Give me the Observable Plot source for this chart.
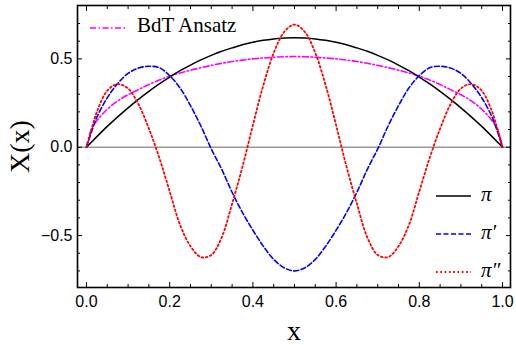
<!DOCTYPE html>
<html><head><meta charset="utf-8">
<script src="https://cdn.jsdelivr.net/npm/d3@7"></script>
<script src="https://cdn.jsdelivr.net/npm/@observablehq/plot@0.6"></script>
<style>html,body{margin:0;padding:0;background:#fff}</style>
</head><body><div id="chart"></div>
<script>
const xs = [0, 0.0125, 0.025, 0.05, 0.075, 0.1, 0.125, 0.15, 0.175, 0.2, 0.225, 0.25, 0.275, 0.3, 0.325, 0.35, 0.375, 0.4, 0.425, 0.45, 0.475, 0.5,
            0.525, 0.55, 0.575, 0.6, 0.625, 0.65, 0.675, 0.7, 0.725, 0.75, 0.775, 0.8, 0.825, 0.85, 0.875, 0.9, 0.925, 0.95, 0.975, 0.9875, 1];
const piVals = [0, 0.03, 0.06, 0.118, 0.172, 0.223, 0.271, 0.316, 0.358, 0.397, 0.433, 0.465, 0.494, 0.52, 0.543, 0.562, 0.58, 0.594, 0.605, 0.613, 0.618, 0.62,
                0.618, 0.613, 0.605, 0.594, 0.58, 0.562, 0.543, 0.52, 0.494, 0.465, 0.433, 0.397, 0.358, 0.316, 0.271, 0.223, 0.172, 0.118, 0.06, 0.03, 0];
const piPrimeVals = [0, 0.09, 0.17, 0.28, 0.36, 0.418, 0.448, 0.458, 0.45, 0.405, 0.335, 0.235, 0.12, -0.01, -0.125, -0.255, -0.37, -0.47, -0.56, -0.635, -0.682, -0.70,
                     -0.682, -0.635, -0.56, -0.47, -0.37, -0.255, -0.125, -0.01, 0.12, 0.235, 0.335, 0.405, 0.45, 0.458, 0.448, 0.418, 0.36, 0.28, 0.17, 0.09, 0];
const piDoublePrimeVals = [0, 0.105, 0.2, 0.32, 0.357, 0.332, 0.243, 0.105, -0.06, -0.25, -0.44, -0.56, -0.622, -0.61, -0.51, -0.32, -0.11, 0.125, 0.35, 0.533, 0.652, 0.694,
                           0.652, 0.533, 0.35, 0.125, -0.11, -0.32, -0.51, -0.61, -0.622, -0.56, -0.44, -0.25, -0.06, 0.105, 0.243, 0.332, 0.357, 0.32, 0.2, 0.105, 0];
const bdtVals = [0, 0.105, 0.15, 0.215, 0.262, 0.297, 0.326, 0.355, 0.38, 0.402, 0.42, 0.436, 0.45, 0.463, 0.475, 0.485, 0.493, 0.5, 0.505, 0.509, 0.512, 0.513,
                 0.512, 0.509, 0.505, 0.5, 0.493, 0.485, 0.475, 0.463, 0.45, 0.436, 0.42, 0.402, 0.38, 0.355, 0.326, 0.297, 0.262, 0.215, 0.15, 0.105, 0];

const seriesNames = ["π", "π′", "π″"];
const bdtName = "BdT Ansatz";
const xMajorTicks = [0, 0.2, 0.4, 0.6, 0.8, 1.0];
const xMinorTicks = [0.05, 0.1, 0.15, 0.25, 0.3, 0.35, 0.45, 0.5, 0.55, 0.65, 0.7, 0.75, 0.85, 0.9, 0.95];
const yMajorTicks = [-0.5, 0, 0.5];
const yMinorTicks = [-0.7, -0.6, -0.4, -0.3, -0.2, -0.1, 0.1, 0.2, 0.3, 0.4, 0.6, 0.7];
const xLabel = "x";
const yLabel = "X(x)";

const rows = vals => xs.map((x, i) => ({x, y: vals[i]}));
const fmt = d3.format(".1f");
const serif = "'Liberation Serif', 'Times New Roman', serif";

const colors = {pi: "#000000", piP: "#0000ff", piPP: "#ff0000", bdt: "#ff00ff"};
const dashes = {pi: null, piP: "5,2.5", piPP: "1.7,2.6", bdt: "6,2.5,1.5,2.5"};

const plot = Plot.plot({
  width: 516, height: 345,
  marginLeft: 77, marginRight: 6, marginTop: 5, marginBottom: 58,
  style: {fontFamily: "'Liberation Sans', Arial, sans-serif", fontSize: "16px", color: "black", background: "white", overflow: "visible"},
  x: {domain: [-0.0216, 1.0192], label: null},
  y: {domain: [-0.794, 0.802], label: null},
  marks: [
    Plot.ruleY([0], {stroke: "#999", strokeWidth: 1.4}),
    Plot.line(rows(bdtVals), {x: "x", y: "y", stroke: colors.bdt, strokeWidth: 1.6, strokeDasharray: dashes.bdt, curve: "catmull-rom"}),
    Plot.line(rows(piVals), {x: "x", y: "y", stroke: colors.pi, strokeWidth: 1.5, curve: "catmull-rom"}),
    Plot.line(rows(piPrimeVals), {x: "x", y: "y", stroke: colors.piP, strokeWidth: 1.6, strokeDasharray: dashes.piP, curve: "catmull-rom"}),
    Plot.line(rows(piDoublePrimeVals), {x: "x", y: "y", stroke: colors.piPP, strokeWidth: 1.8, strokeDasharray: dashes.piPP, curve: "catmull-rom"}),
    Plot.frame({stroke: "black", strokeWidth: 1.6}),
    Plot.axisX({ticks: xMajorTicks, anchor: "bottom", tickSize: -5, fill: "none", label: null}),
    Plot.axisX({ticks: xMinorTicks, anchor: "bottom", tickSize: -3, fill: "none", label: null}),
    Plot.axisX({ticks: xMajorTicks, anchor: "top", tickSize: -5, fill: "none", label: null}),
    Plot.axisX({ticks: xMinorTicks, anchor: "top", tickSize: -3, fill: "none", label: null}),
    Plot.axisY({ticks: yMajorTicks, anchor: "left", tickSize: -5, fill: "none", label: null}),
    Plot.axisY({ticks: yMinorTicks, anchor: "left", tickSize: -3, fill: "none", label: null}),
    Plot.axisY({ticks: yMajorTicks, anchor: "right", tickSize: -5, fill: "none", label: null}),
    Plot.axisY({ticks: yMinorTicks, anchor: "right", tickSize: -3, fill: "none", label: null}),
    Plot.axisX({ticks: xMajorTicks, anchor: "bottom", tickSize: 0, tickPadding: 8, tickFormat: fmt, label: null, fontSize: 16}),
    Plot.axisY({ticks: yMajorTicks, anchor: "left", tickSize: 0, tickPadding: 5, tickFormat: fmt, label: null, fontSize: 16}),
    Plot.text([yLabel], {text: d => d, frameAnchor: "left", dx: -57, rotate: -90, textAnchor: "middle", lineAnchor: "middle", fontFamily: serif, fontSize: 28, fill: "black"}),
    Plot.text([xLabel], {text: d => d, frameAnchor: "bottom", dy: 33, textAnchor: "middle", lineAnchor: "top", fontFamily: serif, fontSize: 28, fill: "black"})
  ]
});
document.getElementById("chart").appendChild(plot);

// legends inside the frame
const svg = d3.select(plot);
const lg = svg.append("g").attr("text-anchor", "start")
  .style("font-family", serif).style("font-size", "21px");
lg.append("line").attr("x1", 90).attr("x2", 125).attr("y1", 28).attr("y2", 28)
  .attr("stroke", colors.bdt).attr("stroke-width", 1.6).attr("stroke-dasharray", dashes.bdt);
lg.append("text").attr("x", 137).attr("y", 32).attr("fill", "black").text(bdtName);

const legItems = [
  {name: seriesNames[0], color: colors.pi, dash: dashes.pi, w: 1.5},
  {name: seriesNames[1], color: colors.piP, dash: dashes.piP, w: 1.6},
  {name: seriesNames[2], color: colors.piPP, dash: dashes.piPP, w: 1.8}
];
legItems.forEach((d, i) => {
  const y = 196 + i * 38;
  const l = lg.append("line").attr("x1", 436).attr("x2", 471).attr("y1", y).attr("y2", y)
    .attr("stroke", d.color).attr("stroke-width", d.w);
  if (d.dash) l.attr("stroke-dasharray", d.dash);
  lg.append("text").attr("x", 481).attr("y", y + 5).style("font-style", "italic")
    .attr("fill", "black").text(d.name);
});
</script>
</body></html>
